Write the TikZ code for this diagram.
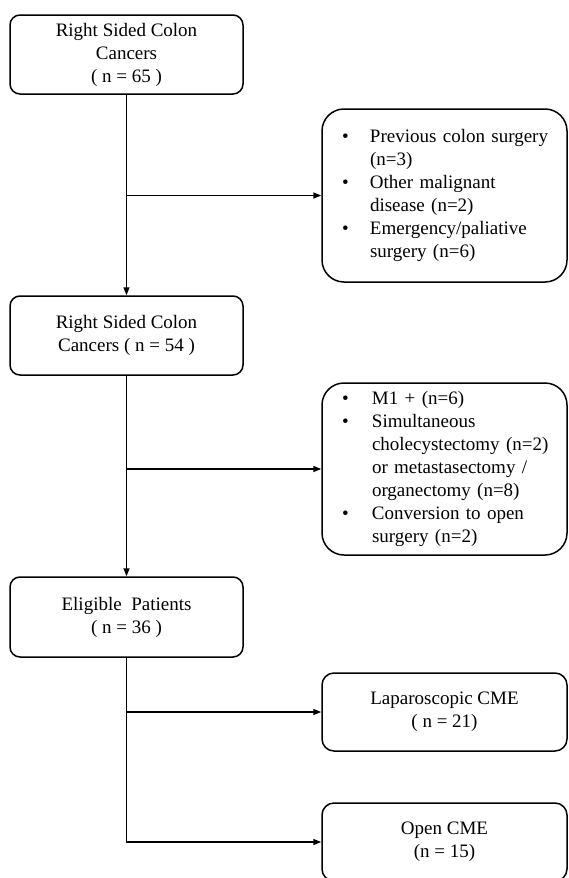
\documentclass[tikz,border=0pt]{standalone}
\usepackage{fontspec}
\setmainfont{Liberation Serif}
\usepackage{tikz}
\usetikzlibrary{arrows.meta}

\begin{document}
\begin{tikzpicture}[x=1pt,y=-1pt,
    line width=1.5pt,
    >={Triangle[length=8pt,width=6pt]},
    mainbox/.style={draw,rounded corners=10pt,minimum width=233pt,minimum height=79pt,
        align=center,font=\fontsize{19}{23}\selectfont},
    sidebox/.style={draw,rounded corners=22pt,minimum width=245pt,
        text width=205pt,inner xsep=20pt,align=left,font=\fontsize{19}{23}\selectfont},
    endbox/.style={draw,rounded corners=12pt,minimum width=245pt,minimum height=78pt,
        align=center,font=\fontsize{19}{23}\selectfont}]
        \useasboundingbox (0,0) rectangle (569,878);

        % Main column
        \node[mainbox] (colon) at (126.5,54.5) {Right Sided Colon\\Cancers\\( n = 65 )};
        \node[mainbox] (colonb) at (126.5,335.5) {Right Sided Colon\\Cancers ( n = 54 )};
        \node[mainbox,minimum height=80pt] (eligible) at (126.5,617) {Eligible~ Patients\\( n = 36 )};

        % Exclusion boxes
        \node[sidebox,minimum height=173pt] (exclA) at (444.5,195.5) {%
            \begin{tabular}{@{}p{28pt}@{}l@{}}
            \textbullet & Previous colon surgery\\
                        & (n=3)\\
            \textbullet & Other malignant\\
                        & disease (n=2)\\
            \textbullet & Emergency/paliative\\
                        & surgery (n=6)
            \end{tabular}};
        \node[sidebox,minimum height=172pt] (exclB) at (444.5,469) {%
            \begin{tabular}{@{}p{30pt}@{}l@{}}
            \textbullet & M1 + (n=6)\\
            \textbullet & Simultaneous\\
                        & cholecystectomy (n=2)\\
                        & or metastasectomy /\\
                        & organectomy (n=8)\\
            \textbullet & Conversion to open\\
                        & surgery (n=2)
            \end{tabular}};

        % Groups
        \node[endbox] (lap) at (444.5,712) {Laparoscopic CME\\( n = 21)};
        \node[endbox] (open) at (444.5,842) {Open CME\\(n = 15)};

        % Branch points
        \coordinate (brA) at (colon.south |- exclA.west);
        \coordinate (brB) at (colonb.south |- exclB.west);
        \coordinate (brC) at (eligible.south |- lap.west);

        % Connectors
        \draw[->] (colon) -- (colonb);
        \draw[->] (brA) -- (exclA.west);
        \draw[->] (colonb) -- (eligible);
        \draw[->] (brB) -- (exclB.west);
        \draw[->] (eligible.south) |- (open.west);
        \draw[->] (brC) -- (lap.west);

      \end{tikzpicture}
\end{document}
